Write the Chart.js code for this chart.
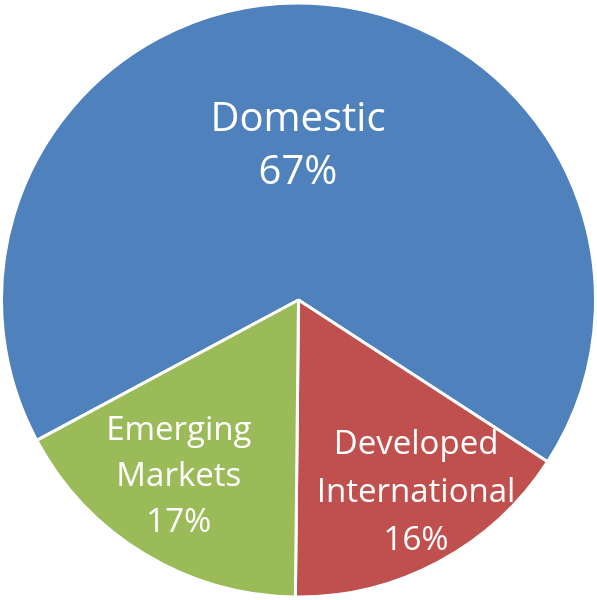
<!DOCTYPE html>
<html>
<head>
<meta charset="utf-8">
<script src="https://cdn.jsdelivr.net/npm/chart.js@4.4.1/dist/chart.umd.min.js"></script>
<style>
  html, body { margin: 0; padding: 0; background: #fff; }
  #pie { display: block; }
</style>
</head>
<body>
<canvas id="pie" width="597" height="600"></canvas>
<script>
// Allocation data
const categories = ["Domestic", "Developed International", "Emerging Markets"];
const shares = [67, 16, 17];
const sliceColors = ["#4F81BD", "#C0504D", "#9BBB59"];

// label placement per slice: distance from centre (share of radius), font size, line height
const labelStyle = [
    { r: 0.52, size: 40, lh: 53, dx: -7, dy: 0 },
    { r: 0.745, size: 33, lh: 48, dx: 13, dy: -2 },
    { r: 0.70, size: 33, lh: 46, dx: -12, dy: -1 }
];

// draws "Name / xx%" inside each slice
const sliceLabels = {
    id: "sliceLabels",
    afterDatasetsDraw(chart) {
        const ctx = chart.ctx;
        const meta = chart.getDatasetMeta(0);
        meta.data.forEach((arc, i) => {
            const p = arc.getProps(["x", "y", "startAngle", "endAngle", "outerRadius"], true);
            const mid = (p.startAngle + p.endAngle) / 2;
            const st = labelStyle[i];
            const cx = p.x + Math.cos(mid) * p.outerRadius * st.r + st.dx;
            const cy = p.y + Math.sin(mid) * p.outerRadius * st.r + st.dy;
            const lines = categories[i].split(" ").concat([shares[i] + "%"]);
            ctx.save();
            ctx.fillStyle = "#fff";
            ctx.font = st.size + "px 'Open Sans', 'Noto Sans', sans-serif";
            ctx.textAlign = "center";
            ctx.textBaseline = "middle";
            lines.forEach((t, k) => {
                ctx.fillText(t, cx, cy + (k - (lines.length - 1) / 2) * st.lh);
            });
            ctx.restore();
        });
    }
};

new Chart(document.getElementById("pie"), {
    type: "pie",
    data: {
        labels: categories,
        datasets: [{
            data: shares,
            backgroundColor: sliceColors,
            borderColor: "#ffffff",
            borderWidth: 3
        }]
    },
    options: {
        responsive: false,
        animation: false,
        rotation: -118.2,
        layout: { padding: 0 },
        plugins: {
            legend: { display: false },
            tooltip: { enabled: false }
        }
    },
    plugins: [sliceLabels]
});
</script>
</body>
</html>
